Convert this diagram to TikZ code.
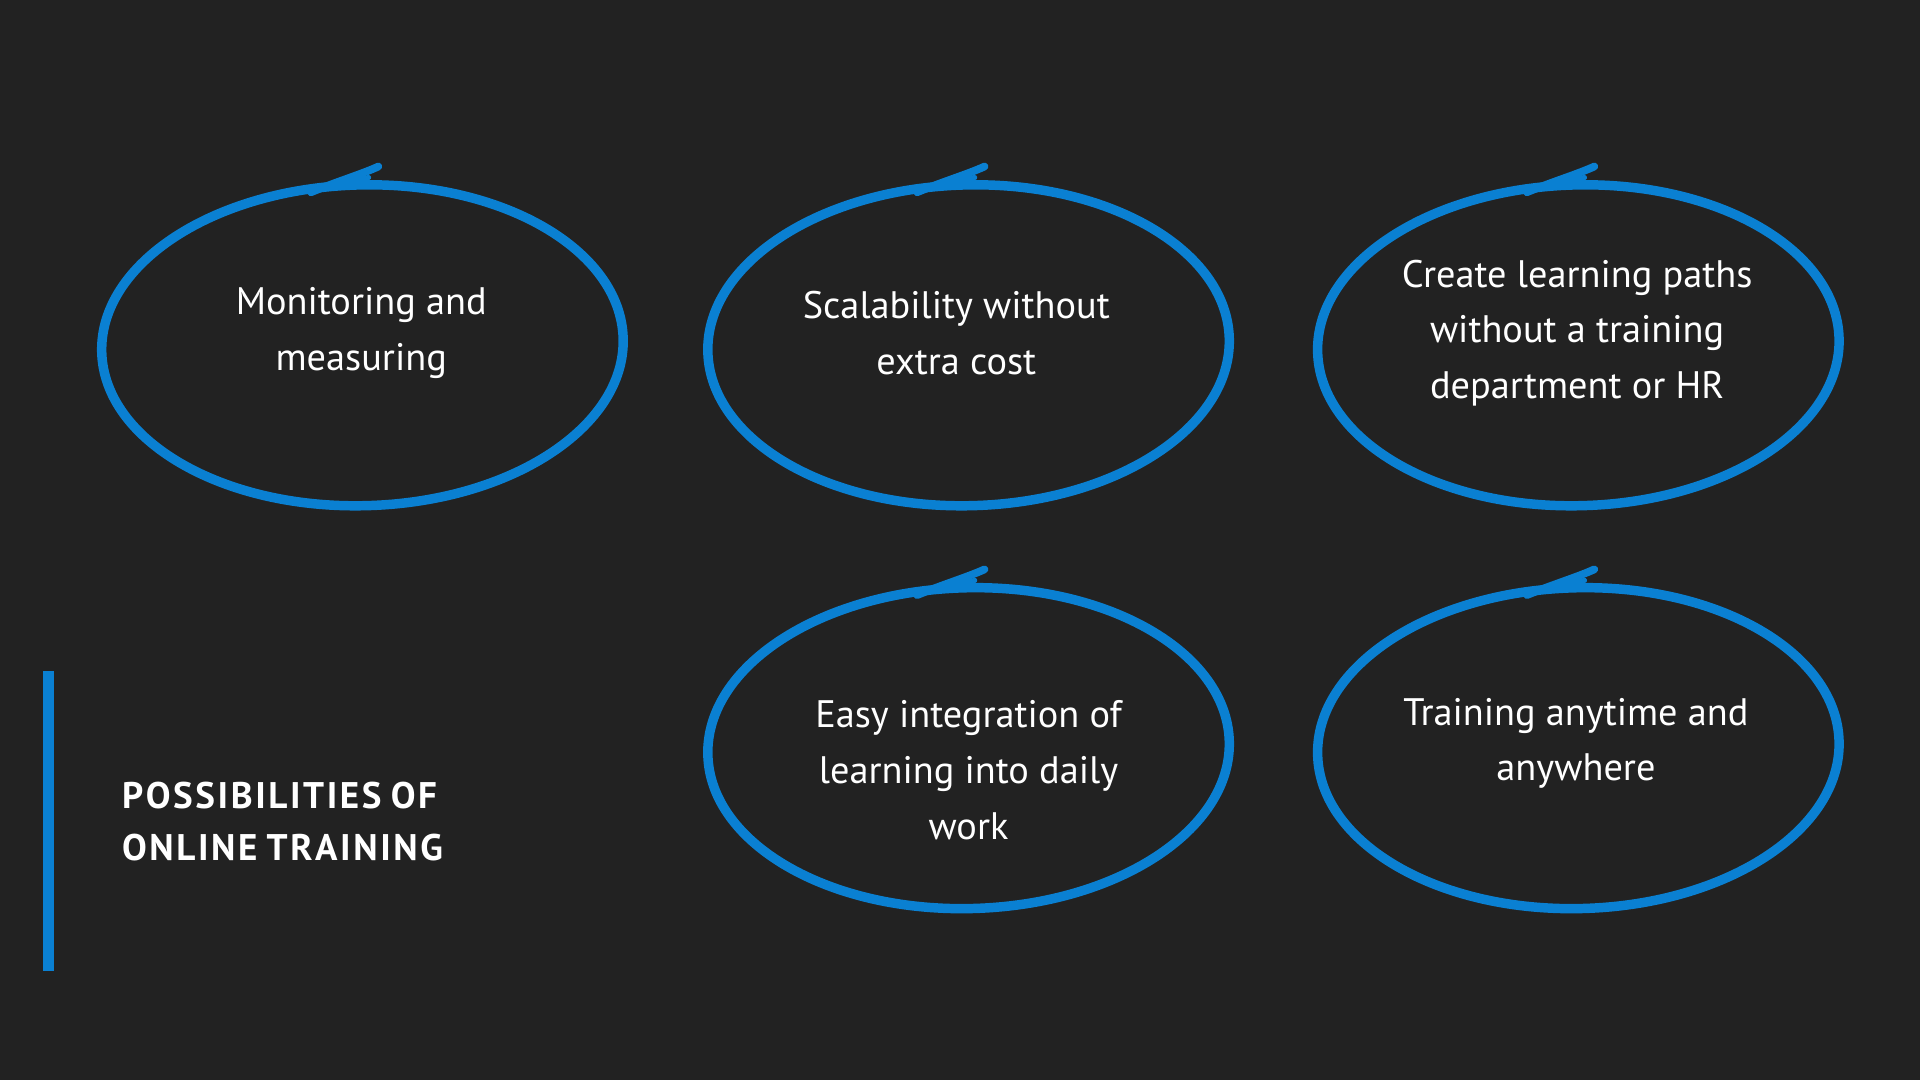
\documentclass[tikz,border=0pt]{standalone}
\usepackage{fontspec}
\setmainfont{PT Sans}
\definecolor{bg}{HTML}{222222}
\definecolor{blu}{HTML}{0A80D2}
\begin{document}
\begin{tikzpicture}[x=0.01cm,y=-0.01cm,
  tail/.style={draw=blu,line width=1.8pt,line cap=round}]
\fill[bg] (0,0) rectangle (1568,882);
\useasboundingbox (0,0) rectangle (1568,882);
\tikzset{lbl/.style={text=white,align=center,font=\fontsize{8.9}{12.9}\selectfont}}
\foreach \n/\x/\y in {a/296/282,b/791/282,c/1289/282,d/791/611,e/1289/611}{
  \draw[blu,line width=2.2pt,rotate around={1.5:(\x,\y)}] (\x,\y) ellipse (213 and 131);
  \draw[tail] (\x-42,\y-125) .. controls (\x-20,\y-134) and (\x,\y-140) .. (\x+13,\y-146);
  \draw[blu,line width=1.2pt,line cap=round] (\x-35,\y-128) -- (\x+5,\y-137);
}
\node[lbl] (ta) at (295,272) {Monitoring and\\measuring};
\node[lbl] (tb) at (781,272) {Scalability without\\extra cost};
\node[lbl] (tc) at (1288,272) {Create learning paths\\without a training\\department or HR};
\node[lbl] (td) at (791,629) {Easy integration of\\learning into daily\\work};
\node[lbl] (te) at (1287,607) {Training anytime and\\anywhere};
\fill[blu] (35,548) rectangle (44,793);
\node[anchor=west,text=white,align=left,font=\fontsize{8.6}{12.1}\selectfont\bfseries,inner sep=0pt] (title) at (99,671)
  {P\kern.6pt O\kern.6pt S\kern.6pt S\kern.6pt I\kern.6pt B\kern.6pt I\kern.6pt L\kern.6pt I\kern.6pt T\kern.6pt I\kern.6pt E\kern.6pt S O\kern.6pt F\\O\kern.6pt N\kern.6pt L\kern.6pt I\kern.6pt N\kern.6pt E T\kern.6pt R\kern.6pt A\kern.6pt I\kern.6pt N\kern.6pt I\kern.6pt N\kern.6pt G};
\end{tikzpicture}
\end{document}
